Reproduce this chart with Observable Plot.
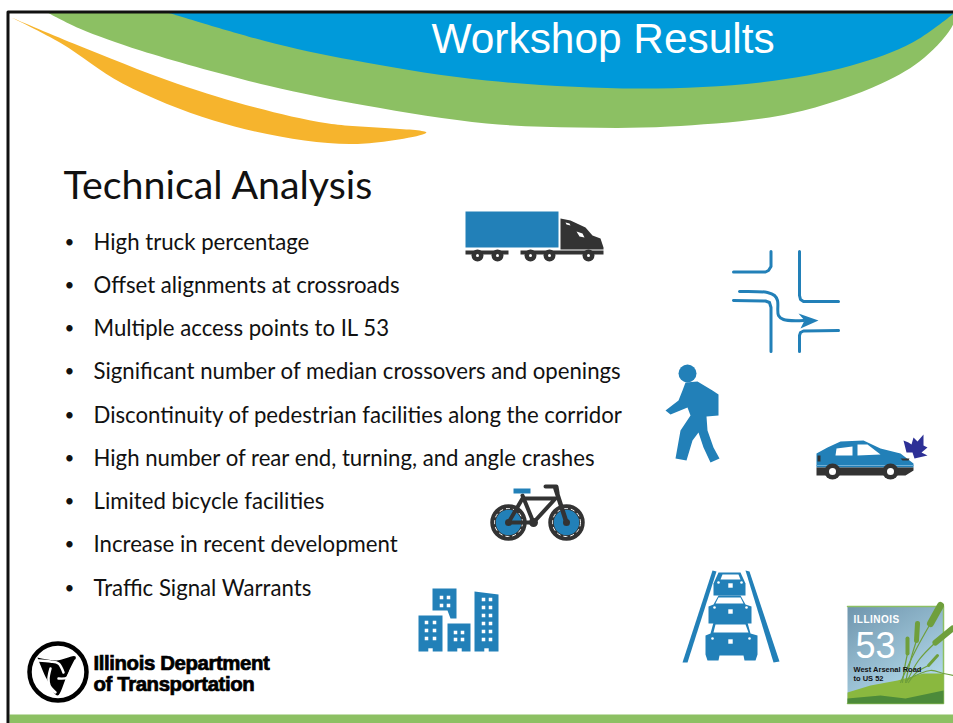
<!DOCTYPE html>
<html>
<head>
<meta charset="utf-8">
<script src="https://cdn.jsdelivr.net/npm/d3@7"></script>
<script src="https://cdn.jsdelivr.net/npm/@observablehq/plot@0.6"></script>
<style>
html,body{margin:0;padding:0;background:#fff}
svg{display:block}
.badge-name text{letter-spacing:.5px}
.logo text{letter-spacing:-.4px;stroke:#000;stroke-width:.7px}
</style>
</head>
<body>
<script>
const headerTitle = "Workshop Results";
const sectionTitle = "Technical Analysis";
const bullets = [
  "High truck percentage",
  "Offset alignments at crossroads",
  "Multiple access points to IL 53",
  "Significant number of median crossovers and openings",
  "Discontinuity of pedestrian facilities along the corridor",
  "High number of rear end, turning, and angle crashes",
  "Limited bicycle facilities",
  "Increase in recent development",
  "Traffic Signal Warrants"
];
const bulletRows = [242,285,328,371,415,458,501,544,588];

const greenSwoosh = [[47,12],[79,28],[140,50],[267,85],[365,105],[486,123],[577,127],[669,126],[790,113],[881,83],[924,57],[953,23],[953,12]];
const blueSwoosh = [[167,12],[274,43],[365,62],[486,80],[638,88],[760,82],[851,65],[912,42],[953,13]];
const orangeSwoosh = [[11,17],[73,43],[176,83],[255,107],[328,123],[426,132],[365,143],[304,140],[213,120],[122,83],[61,43],[11,17]];
const frameLine = [[7.5,723],[7.5,11.5],[953,11.5]];
const footerBand = [[9,714],[953,714],[953,723],[9,723]];

const trailer = [[465,211],[558,211],[558,247],[465,247]];
const cab = [[560,218],[570,220],[585,227],[592,235],[600,238],[603,247],[603,249],[560,249]];
const cabWindow = [[576,231],[582,233],[584,237],[579,236]];
const cabVent = [[565,222],[569,223],[570,225],[566,224]];
const chassisA = [[465,250],[508,250],[508,254],[465,254]];
const chassisB = [[520,250],[603,250],[603,254],[520,254]];
const truckWheels = [[477,255],[497,255],[530,255],[549,255],[588,255]];

const roadA = [[770.5,251],[770.5,266],[768,270],[765,271.5],[733,271.5]];
const roadB = [[799,251],[799,295],[800,299],[803,301],[838,301]];
const roadC = [[733,300],[765,300.5],[769,302],[770.5,307],[770.5,351]];
const roadD = [[838,330],[803,330.5],[800,332],[799,335],[799,351]];
const roadArrow = [[739,291],[767,292],[774,295],[777,300],[778,315],[783,319],[803,320]];
const arrowHead = [[798,313],[818,320],[800,328],[804,320]];

const walkerHead = [[687,373]];
const walker = [[685,382],[697,381],[712,390],[718,394],[718,415],[706,416],[707,430],[713,447],[719,458],[710,462],[703,447],[698,432],[692,440],[686,460],[675,458],[680,430],[690,415],[687,407],[670,414],[665,410],[678,400],[682,390]];

const carBody = [[816,453],[827,447],[840,441],[863,440],[880,448],[900,453],[913,463],[913,467],[816,467]];
const carSill = [[816,467],[913,467],[913,470],[905,475],[816,475]];
const carStripe = [[816,465],[913,465]];
const carGlassA = [[835,455],[836,448],[852,446],[852,455]];
const carGlassB = [[857,444],[867,444],[880,454],[857,455]];
const carTail = [[817,455],[820,455],[820,461],[817,461]];
const carLamp = [[900,458],[909,458],[908,460],[902,460]];
const carWheels = [[832,471],[890,471]];
const burst = [[903,440],[908,442],[911,444],[913,437],[917,441],[923,434],[923,445],[927,447],[921,452],[927,455],[914,458],[912,452],[906,452]];

const bikeWheels = [[508,522],[566,522]];
const bikeFrameA = [[508,522],[533,522],[522,495]];
const bikeFrameB = [[508,522],[522,498],[555,498],[533,522]];
const bikeFork = [[555,488],[566,522]];
const bikeBar = [[545,486],[556,486],[557,492]];
const bikeSaddle = [[513,488],[530,488],[530,493],[513,493]];

const towerA = [[418,615],[442,615],[442,651],[418,651]];
const towerB = [[432,588],[456,588],[456,618],[450,618],[447,610],[432,610]];
const towerC = [[447,623],[470,623],[470,651],[447,651]];
const towerD = [[474,591],[498,594],[498,651],[474,651]];
const towerWindows = [
  [426,622],[434,622],[426,630],[434,630],[426,638],[434,638],
  [441,597],[448,597],[441,605],[448,605],
  [455,632],[462,632],[455,639],[462,639],
  [483,599],[490,599],[483,607],[490,607],[483,615],[490,615],[483,623],[490,623],[483,631],[490,631],[483,639],[490,639]
];
const towerDoors = [[430,650],[459,650],[486,650]];

const laneLeft = [[712,570],[716,571],[687,662],[682,662]];
const laneRight = [[745,570],[749,571],[779,661],[773,662]];
const carFar = [[718,572],[740,572],[745,583],[745,595],[713,595],[713,583]];
const carMid = [[718,595],[740,595],[745,604],[751,606],[751,623],[708,623],[708,606],[713,604]];
const carNear = [[713,622],[747,622],[750,633],[757,635],[757,654],[755,660],[744,660],[743,655],[719,655],[718,660],[707,660],[705,654],[705,635],[710,633]];
const glassFar = [[722,574],[738,574],[740,579],[720,579]];
const glassMid = [[718,597],[740,597],[743,603],[715,603]];
const glassNear = [[715,624],[745,624],[748,632],[713,632]];
const carPlates = [[730,585],[730,611],[730,641]];
const carLights = [[718,582],[741,582],[714,607],[746,607],[712,638],[749,638]];

const badge = [[847,606],[943,606],[943,703],[847,703]];
const hillLight = [[847,692],[870,685],[897,680],[923,673],[943,673],[943,703],[847,703]];
const hillDark = [[847,698],[880,695],[905,698],[943,690],[943,703],[847,703]];
const grassHeads = [
  [[940,605],[930,623],7],
  [[917,623],[916,640],5],
  [[952,628],[935,642],6],
  [[907,638],[907,653],4],
  [[937,655],[928,665],3]
];
const grassStems = [
  [[930,623],[915,650],[900,682]],
  [[916,640],[910,660],[905,682]],
  [[935,642],[918,660],[906,682]],
  [[907,653],[904,668],[902,682]],
  [[928,665],[916,672],[908,682]],
  [[905,680],[930,670],[943,673],[953,675]]
];

const logoRing = [[57.5,671.5]];
const logoCore = [[37,657],[56,660],[75,656],[66,676],[57,695],[46,678],[37,657]];
const logoSwirls = [
  [[38,660],[50,661],[58,663],[63,672]],
  [[75,660],[70,670],[67,677],[58,678]],
  [[55,692],[49,685],[48,678],[50,668]]
];

const ICON = "#2280b8", DARK = "#333333";
const X = d => d[0], Y = d => d[1];
const shape = (pts, fill, o = {}) => Plot.line(pts, {x: X, y: Y, fill, stroke: "none", ...o});
const path = (pts, stroke, strokeWidth, o = {}) => Plot.line(pts, {x: X, y: Y, stroke, strokeWidth, ...o});
const dots = (pts, r, fill, o = {}) => Plot.dot(pts, {x: X, y: Y, r, fill, stroke: "none", ...o});
const label = (text, x, y, fontSize, o = {}) => Plot.text([text], {
  x: () => x, y: () => y, text: d => d, fontSize, textAnchor: "start", lineAnchor: "middle",
  fontFamily: "Lato", fill: "#111", ...o
});

const plot = Plot.plot({
  width: 953, height: 723, margin: 0,
  x: {domain: [0, 953], range: [0, 953], axis: null},
  y: {domain: [0, 723], range: [0, 723], axis: null},
  style: {background: "#fff"},
  marks: [
    shape(greenSwoosh, "#8cc063", {curve: "catmull-rom"}),
    shape(blueSwoosh, "#009ada", {curve: "catmull-rom"}),
    shape(orangeSwoosh, "#f6b42d", {curve: "catmull-rom"}),
    shape(footerBand, "#8cc063"),
    path(frameLine, "#111", 3),
    label(headerTitle, 431, 39, 42.4, {fontFamily: "Liberation Sans", fill: "#fff"}),
    label(sectionTitle, 63, 186, 39.4),
    Plot.text(bullets, {
      x: () => 93, y: (d, i) => bulletRows[i], text: d => d, fontSize: 22.2,
      textAnchor: "start", lineAnchor: "middle", fontFamily: "Lato", fill: "#111"
    }),
    Plot.text(bullets, {
      x: () => 64, y: (d, i) => bulletRows[i], text: () => "•", fontSize: 17,
      textAnchor: "start", lineAnchor: "middle", fontFamily: "Lato", fill: "#111"
    }),

    shape(trailer, ICON),
    shape(cab, DARK),
    shape(cabWindow, "#fff"),
    shape(cabVent, "#fff"),
    shape(chassisA, DARK),
    shape(chassisB, DARK),
    dots(truckWheels, 6, DARK),
    dots(truckWheels, 1.5, "#fff"),

    path(roadA, ICON, 3),
    path(roadB, ICON, 3),
    path(roadC, ICON, 3),
    path(roadD, ICON, 3),
    path(roadArrow, ICON, 3, {curve: "catmull-rom"}),
    shape(arrowHead, ICON),

    dots(walkerHead, 9, ICON),
    shape(walker, ICON),

    shape(carBody, ICON),
    shape(carSill, DARK),
    path(carStripe, "#6fb0d8", 1),
    shape(carGlassA, "#fff"),
    shape(carGlassB, "#fff"),
    shape(carTail, DARK),
    shape(carLamp, DARK),
    dots(carWheels, 8, DARK),
    dots(carWheels, 3.5, "#fff"),
    shape(burst, "#2d3096"),

    dots(bikeWheels, 15.5, ICON, {stroke: DARK, strokeWidth: 5.5}),
    dots(bikeWheels, 14, "none", {stroke: "#fff", strokeWidth: 1, strokeDasharray: "4 3"}),
    dots(bikeWheels, 3.5, DARK),
    path(bikeFrameA, DARK, 4),
    path(bikeFrameB, DARK, 4),
    path(bikeFork, DARK, 4.5),
    path(bikeBar, DARK, 4),
    dots([[533,522]], 4.5, DARK),
    shape(bikeSaddle, ICON),

    shape(towerA, ICON),
    shape(towerB, ICON),
    shape(towerC, ICON),
    shape(towerD, ICON),
    dots(towerWindows, 2, "#fff", {symbol: "square"}),
    dots(towerDoors, 2.5, "#fff", {symbol: "square"}),

    shape(laneLeft, ICON),
    shape(laneRight, ICON),
    shape(carFar, ICON),
    shape(carMid, ICON),
    shape(carNear, ICON),
    shape(glassFar, "#fff"),
    shape(glassMid, "#fff"),
    shape(glassNear, "#fff"),
    dots(carPlates, 2.5, "#fff", {symbol: "square"}),
    dots(carLights, 1.3, "#fff"),

    shape(badge, "url(#badgeSky)", {stroke: "#8cc063", strokeWidth: 1.5}),
    shape(hillLight, "#8ab83f"),
    shape(hillDark, "#4c8a3a"),
    ...grassStems.map(s => path(s, "#6f9f3c", 1.2, {curve: "catmull-rom"})),
    ...grassHeads.map(([a, b, w]) => path([a, b], "#6f9f3c", w, {strokeLinecap: "round"})),
    label("ILLINOIS", 853, 619, 10, {fontFamily: "Liberation Sans", fontWeight: "bold", fill: "#fff", className: "badge-name"}),
    label("53", 855, 646, 36, {fontFamily: "Liberation Sans", fill: "#fff"}),
    label("West Arsenal Road", 853, 669, 7.5, {fontFamily: "Liberation Sans", fontWeight: "bold", fill: "#111"}),
    label("to US 52", 853, 678, 7.5, {fontFamily: "Liberation Sans", fontWeight: "bold", fill: "#111"}),

    dots(logoRing, 28.5, "#fff", {stroke: "#000", strokeWidth: 4.5}),
    shape(logoCore, "#000", {curve: "catmull-rom"}),
    ...logoSwirls.map(b => path(b, "#fff", 2.5, {curve: "catmull-rom"})),
    label("Illinois Department", 93, 663, 20.4, {fontFamily: "Liberation Sans", fontWeight: "bold", fill: "#000", className: "logo"}),
    label("of Transportation", 93, 684, 20.4, {fontFamily: "Liberation Sans", fontWeight: "bold", fill: "#000", className: "logo"})
  ]
});

const defs = d3.select(plot).insert("defs", ":first-child");
const grad = defs.append("linearGradient").attr("id", "badgeSky")
  .attr("x1", "0").attr("y1", "0").attr("x2", "0.6").attr("y2", "1");
grad.append("stop").attr("offset", "0").attr("stop-color", "#6f95ad");
grad.append("stop").attr("offset", "1").attr("stop-color", "#b4dbec");

document.body.appendChild(plot);
</script>
</body>
</html>
